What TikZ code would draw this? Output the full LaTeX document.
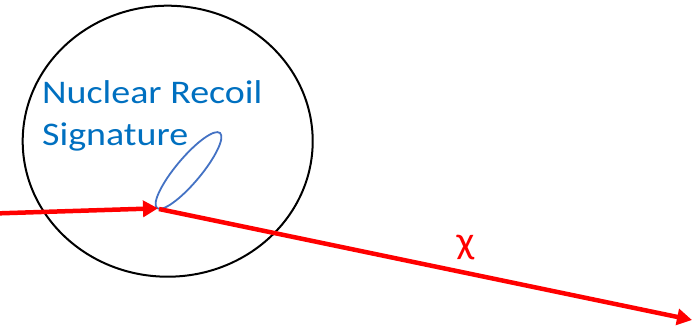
\documentclass[tikz,border=0pt]{standalone}
\usepackage{fontspec}
\setmainfont{Carlito}
\usetikzlibrary{arrows.meta}
\definecolor{txtblue}{HTML}{0070C0}
\definecolor{ellblue}{HTML}{4472C4}
\definecolor{arrred}{HTML}{FF0000}
\tikzset{
  redarrow/.style={draw=arrred, line width=4.5pt, -{Triangle[length=15pt,width=16pt]}},
  lbl/.style={text=txtblue, font=\fontsize{33}{42}\selectfont, anchor=base west, inner sep=0pt, xscale=1.15, transform shape},
}
\begin{document}
\begin{tikzpicture}[x=1pt,y=-1pt]
\useasboundingbox (0,0) rectangle (693,325);
\fill[white] (0,0) rectangle (693,325);
% detector volume
\draw[black, line width=2pt] (167.7,141.2) ellipse [x radius=145, y radius=135.5];
% recoil signature
\draw[ellblue, line width=1.8pt, rotate around={50:(188.5,170.5)}] (188.5,170.5) ellipse [x radius=49, y radius=12.5];
% labels
\node[lbl] (l1) at (42,103.3) {Nuclear Recoil};
\node[lbl] (l2) at (42,145.5) {Signature};
\node[text=arrred, font=\fontsize{38}{44}\selectfont, inner sep=0pt, xscale=1.1, transform shape] (chi) at (465.5,248) {χ};
% particle track
\coordinate (in) at (0,213.3);
\coordinate (hit) at (158,208.3);
\coordinate (hit2) at (159,209);
\coordinate (out) at (692,320);
\draw[redarrow] (in) -- (hit);
\draw[redarrow] (hit2) -- (out);
\end{tikzpicture}
\end{document}
